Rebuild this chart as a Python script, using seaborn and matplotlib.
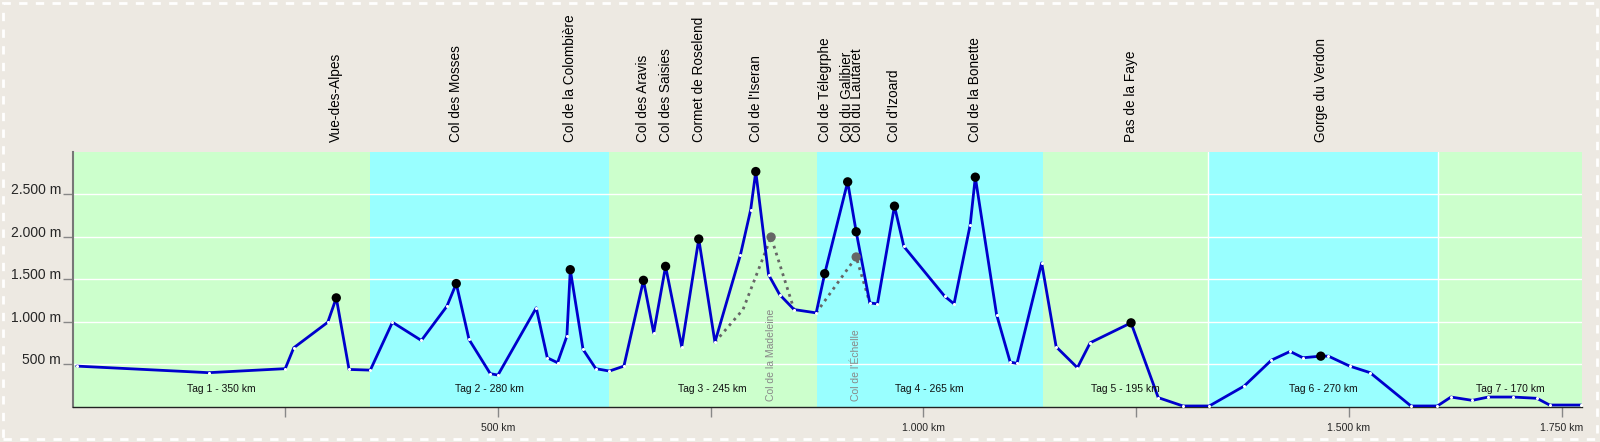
import matplotlib
matplotlib.use("Agg")
import matplotlib.pyplot as plt
import matplotlib.patches as mpatches
import matplotlib.transforms as mtransforms
from matplotlib.ticker import FixedLocator, FuncFormatter
import seaborn as sns
import numpy as np

# Elevation profile (km along route, metres)
dist_km = [5, 160, 250, 260, 300, 310, 325, 350, 376, 410, 440, 451, 466, 491, 500,
           545, 558, 570, 581, 585, 600, 615, 631, 648, 671, 683, 697, 716, 736, 755,
           785, 797, 803, 818, 831, 848, 874, 884, 911, 921, 937, 946, 966, 977, 1025,
           1036, 1055, 1061, 1086, 1102, 1110, 1139, 1156, 1181, 1196, 1244, 1276, 1305,
           1336, 1377, 1409, 1431, 1446, 1467, 1476, 1501, 1525, 1573, 1604, 1620, 1645,
           1664, 1693, 1721, 1736, 1773]
elev_m = [480, 403, 450, 695, 995, 1281, 441, 433, 995, 781, 1183, 1449, 793, 391, 375,
          1164, 578, 520, 831, 1612, 676, 450, 422, 480, 1487, 871, 1651, 707, 1972, 761,
          1788, 2315, 2764, 1554, 1320, 1144, 1105, 1565, 2643, 2057, 1222, 1211, 2358, 1885, 1300,
          1211, 2139, 2698, 1085, 527, 512, 1691, 707, 461, 754, 988, 110, 12,
          12, 246, 550, 652, 578, 597, 597, 480, 403, 12, 12, 117, 78,
          117, 117, 102, 23, 23]

# Passes on the route
pass_names = ["Vue-des-Alpes", "Col des Mosses", "Col de la Colombière", "Col des Aravis",
              "Col des Saisies", "Cormet de Roselend", "Col de l'Iseran", "Col de Télegrphe",
              "Col du Galibier", "Col du Lautaret", "Col d'Izoard", "Col de la Bonette",
              "Pas de la Faye", "Gorge du Verdon"]
pass_km = [310, 451, 585, 671, 697, 736, 803, 884, 911, 921, 966, 1061, 1244, 1467]
pass_m = [1281, 1449, 1612, 1487, 1651, 1972, 2764, 1565, 2643, 2057, 2358, 2698, 988, 597]

# Side detours (dotted)
madeleine_km = [755, 788, 821, 848]
madeleine_m = [761, 1144, 1995, 1144]
echelle_km = [874, 921, 937]
echelle_m = [1105, 1761, 1222]
detour_names = ["Col de la Madeleine", "Col de l'Échelle"]
detour_km = [821, 921]
detour_m = [1995, 1761]

# Stages
day_labels = ["Tag 1 - 350 km", "Tag 2 - 280 km", "Tag 3 - 245 km", "Tag 4 - 265 km",
              "Tag 5 - 195 km", "Tag 6 - 270 km", "Tag 7 - 170 km"]
day_km = [350, 280, 245, 265, 195, 270, 170]
day_colors = ["#ccffcc", "#99ffff"]

sns.set_theme(style="white")
plt.rcParams['font.family'] = ['Liberation Sans', 'DejaVu Sans']

bg = "#ede9e2"
fig = plt.figure(figsize=(16, 4.42), dpi=100, facecolor=bg)
ax = fig.add_axes([72.5 / 1600, 1 - 407 / 442, (1582 - 72.5) / 1600, (407 - 152.3) / 442])

# stage backgrounds
ends = np.cumsum(day_km)
starts = ends - np.array(day_km)
for i, (s, e) in enumerate(zip(starts, ends)):
    ax.axvspan(s, e, color=day_colors[i % 2], lw=0, zorder=0)
    ax.text((s + e) / 2, 207, day_labels[i], ha='center', va='center', fontsize=7.5,
            color='#111111', zorder=5)
for b in [ends[4], ends[5]]:
    ax.axvline(b, color='white', lw=1, zorder=1)

for yv in [500, 1000, 1500, 2000, 2500]:
    ax.axhline(yv, color='white', lw=1, zorder=1)

# detours
ax.plot(madeleine_km, madeleine_m, ls=(0, (1, 1.6)), color='#666666', lw=2, zorder=2)
ax.plot(echelle_km, echelle_m, ls=(0, (1, 1.6)), color='#666666', lw=2, zorder=2)

# main profile
sns.lineplot(x=dist_km, y=elev_m, sort=False, estimator=None, ax=ax, color='#0000cc',
             lw=2, marker='o', markersize=2.2, markerfacecolor='white',
             markeredgewidth=0, zorder=3)

sns.scatterplot(x=pass_km, y=pass_m, ax=ax, color='black', s=45, edgecolor='none', zorder=4)
sns.scatterplot(x=detour_km, y=detour_m, ax=ax, color='#666666', s=45, edgecolor='none', zorder=4)

for name, k in zip(detour_names, detour_km):
    ax.text(k, 70, name, rotation=90, ha='center', va='bottom', fontsize=7.5,
            color='#888888', zorder=5)

# pass labels above the plot (Galibier / Lautaret nudged apart a little, as in the original)
label_shift = {"Col du Galibier": -0.5, "Col du Lautaret": 1.5}
trans = mtransforms.blended_transform_factory(ax.transData, ax.transAxes)
for name, k in zip(pass_names, pass_km):
    ax.text(k + label_shift.get(name, 0), 1.042, name, rotation=90, ha='center',
            va='bottom', fontsize=9.8, color='black', transform=trans, clip_on=False)

ax.set_xlim(0, 1774)
ax.set_ylim(0, 2990)
ax.set_xlabel('')
ax.set_ylabel('')


def de_num(v):
    return f"{int(v):,}".replace(",", ".")


ax.yaxis.set_major_locator(FixedLocator([500, 1000, 1500, 2000, 2500]))
ax.yaxis.set_major_formatter(FuncFormatter(lambda v, p: de_num(v) + " m"))
ax.xaxis.set_major_locator(FixedLocator([250, 500, 750, 1000, 1250, 1500, 1750]))
ax.xaxis.set_major_formatter(FuncFormatter(
    lambda v, p: de_num(v) + " km" if v in (500, 1000, 1500, 1750) else ""))
ax.tick_params(axis='y', length=7.2, width=1, color='#888888', pad=1, labelsize=10,
               left=True, direction='out')
ax.tick_params(axis='x', length=7.2, width=1, color='#888888', pad=4, labelsize=7.6,
               bottom=True, direction='out')
for lab in ax.get_yticklabels():
    lab.set_va('baseline')

for side in ['top', 'right']:
    ax.spines[side].set_visible(False)
ax.spines['left'].set_color('#777777')
ax.spines['left'].set_linewidth(1.5)
ax.spines['bottom'].set_color('#222222')
ax.spines['bottom'].set_linewidth(1)

# dashed white frame around the figure
fig.patches.append(mpatches.Rectangle((3 / 1600, 3 / 442), 1 - 6 / 1600, 1 - 6 / 442,
                                      transform=fig.transFigure, fill=False,
                                      edgecolor='white', lw=2, ls=(0, (3, 3))))

fig.savefig("out.png", dpi=100, facecolor=bg)
